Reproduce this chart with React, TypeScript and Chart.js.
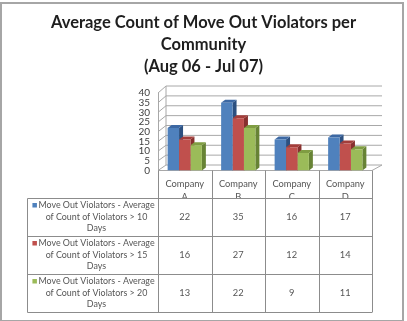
import { useEffect, useRef } from 'react';
import { Chart, registerables } from 'chart.js';

Chart.register(...registerables);

const titleLines = ['Average Count of Move Out Violators per', 'Community', '(Aug 06 - Jul 07)'];
const categories = ['Company A', 'Company B', 'Company C', 'Company D'];
const seriesLabels = [
  ['Move Out Violators - Average', 'of Count of Violators > 10', 'Days'],
  ['Move Out Violators - Average', 'of Count of Violators > 15', 'Days'],
  ['Move Out Violators - Average', 'of Count of Violators > 20', 'Days'],
];
const over10Days = [22, 35, 16, 17];
const over15Days = [16, 27, 12, 14];
const over20Days = [13, 22, 9, 11];
const yMin = 0;
const yMax = 40;
const yStep = 5;

const FONT = 'Lato, "Open Sans", sans-serif';

// front, top and side shades for each series
const shades = [
  { front: '#4f81bd', top: '#3c68a3', side: '#2c5080' },
  { front: '#c0504d', top: '#a33d3a', side: '#87302e' },
  { front: '#9bbb59', top: '#7f9d42', side: '#678335' },
];

const DEPTH_X = 4;
const DEPTH_Y = -3;

function backY(chart: any, v: number) {
  const y = chart.scales.y;
  const f = y.getPixelForValue(v);
  return f - 5.5 - ((v - yMin) / (yMax - yMin)) * 1.5;
}

const wallsAndDepth = {
  id: 'wallsAndDepth',
  beforeDatasetsDraw(chart: any) {
    const { ctx, chartArea } = chart;
    const yS = chart.scales.y;
    const L = chartArea.left;
    const R = chartArea.right;
    const bL = L + 8;
    const bR = R + 10;
    ctx.save();
    ctx.lineWidth = 1;
    ctx.strokeStyle = '#a8a8a8';
    // grid on back and left walls
    for (let v = yMin; v <= yMax; v += yStep) {
      const yf = yS.getPixelForValue(v);
      const yb = backY(chart, v);
      ctx.beginPath();
      ctx.moveTo(L, yf);
      ctx.lineTo(bL, yb);
      ctx.lineTo(bR, yb);
      ctx.stroke();
    }
    // left wall front edge
    ctx.beginPath();
    ctx.moveTo(L + 0.5, yS.getPixelForValue(yMax));
    ctx.lineTo(L + 0.5, yS.getPixelForValue(yMin));
    ctx.stroke();
    // back wall left edge
    ctx.beginPath();
    ctx.moveTo(bL, backY(chart, yMax));
    ctx.lineTo(bL, backY(chart, yMin));
    ctx.stroke();
    // floor
    const f0 = yS.getPixelForValue(yMin);
    ctx.beginPath();
    ctx.moveTo(L, f0);
    ctx.lineTo(R, f0);
    ctx.lineTo(bR, backY(chart, yMin));
    ctx.stroke();

    // bar sides and tops
    const metas = chart.getSortedVisibleDatasetMetas();
    for (let i = 0; i < categories.length; i++) {
      metas.forEach((meta: any) => {
        const el = meta.data[i];
        const s = shades[meta.index];
        const w = el.width;
        const left = el.x - w / 2;
        const right = el.x + w / 2;
        const top = el.y;
        const base = el.base;
        ctx.fillStyle = s.side;
        ctx.beginPath();
        ctx.moveTo(right, top);
        ctx.lineTo(right + DEPTH_X, top + DEPTH_Y);
        ctx.lineTo(right + DEPTH_X, base + DEPTH_Y);
        ctx.lineTo(right, base);
        ctx.closePath();
        ctx.fill();
        ctx.fillStyle = s.top;
        ctx.beginPath();
        ctx.moveTo(left, top);
        ctx.lineTo(left + DEPTH_X, top + DEPTH_Y);
        ctx.lineTo(right + DEPTH_X, top + DEPTH_Y);
        ctx.lineTo(right, top);
        ctx.closePath();
        ctx.fill();
      });
    }
    ctx.restore();
  },
};

const titleTableFrame = {
  id: 'titleTableFrame',
  afterDraw(chart: any) {
    const { ctx, chartArea, width, height } = chart;
    const xS = chart.scales.x;
    ctx.save();

    // title
    ctx.fillStyle = '#1e1e1e';
    ctx.font = `bold 16.5px ${FONT}`;
    ctx.textAlign = 'center';
    ctx.textBaseline = 'middle';
    titleLines.forEach((t, i) => ctx.fillText(t, width / 2, 23 + i * 22));

    // data table
    const L = chartArea.left;
    const R = chartArea.right;
    const colW = (R - L) / categories.length;
    const top = chartArea.bottom;
    const headerBottom = top + 27.5;
    const rowH = 38;
    const legendLeft = 27;
    const px = (v: number) => Math.round(v) + 0.5;

    ctx.font = `9.3px ${FONT}`;
    ctx.fillStyle = '#555555';
    // header cells, clipped to the header row
    ctx.save();
    ctx.beginPath();
    ctx.rect(L, top, R - L, headerBottom - top);
    ctx.clip();
    categories.forEach((c, i) => {
      const cx = xS.getPixelForValue(i);
      const parts = c.split(' ');
      ctx.fillText(parts[0], cx, top + 13.5);
      ctx.fillText(parts[1], cx, top + 26.5);
    });
    ctx.restore();

    const series = chart.data.datasets;
    series.forEach((ds: any, r: number) => {
      const rowTop = headerBottom + r * rowH;
      const midY = rowTop + rowH / 2;
      ctx.font = `9.3px ${FONT}`;
      ds.data.forEach((v: number, i: number) => {
        ctx.fillStyle = '#555555';
        ctx.fillText(String(v), xS.getPixelForValue(i), midY);
      });
      ctx.font = `8.9px ${FONT}`;
      const lines = seriesLabels[r];
      const cx = (legendLeft + 8 + L) / 2;
      lines.forEach((ln, k) => {
        ctx.fillStyle = '#555555';
        const ly = rowTop + 7.5 + k * 11.5;
        ctx.fillText(ln, cx, ly);
        if (k === 0) {
          const tw = ctx.measureText(ln).width;
          ctx.fillStyle = shades[r].front;
          ctx.fillRect(cx - tw / 2 - 6, ly - 2.5, 4.5, 4.5);
        }
      });
    });

    // grid lines of the table
    const bottom = headerBottom + series.length * rowH;
    ctx.strokeStyle = '#8c8c8c';
    ctx.lineWidth = 1;
    ctx.beginPath();
    for (let i = 0; i <= categories.length; i++) {
      const x = px(L + i * colW);
      ctx.moveTo(x, top);
      ctx.lineTo(x, bottom);
    }
    ctx.moveTo(px(legendLeft), px(headerBottom));
    ctx.lineTo(px(legendLeft), px(bottom));
    for (let r = 0; r <= series.length; r++) {
      const y = px(headerBottom + r * rowH);
      ctx.moveTo(px(legendLeft), y);
      ctx.lineTo(px(R), y);
    }
    ctx.stroke();

    // outer frame
    ctx.strokeStyle = '#a6a6a6';
    ctx.lineWidth = 2;
    ctx.strokeRect(1, 3, width - 5, height - 3);
    ctx.restore();
  },
};

export default function App() {
  const canvasRef = useRef<HTMLCanvasElement | null>(null);

  useEffect(() => {
    if (!canvasRef.current) return;
    const chart = new Chart(canvasRef.current, {
      type: 'bar',
      data: {
        labels: categories,
        datasets: [
          { label: seriesLabels[0].join(' '), data: over10Days, backgroundColor: shades[0].front },
          { label: seriesLabels[1].join(' '), data: over15Days, backgroundColor: shades[1].front },
          { label: seriesLabels[2].join(' '), data: over20Days, backgroundColor: shades[2].front },
        ],
      },
      options: {
        responsive: false,
        animation: false,
        devicePixelRatio: 1,
        datasets: { bar: { categoryPercentage: 0.64, barPercentage: 1, borderWidth: 0 } },
        layout: { padding: { top: 93, right: 35, bottom: 150.5, left: 0 } },
        plugins: { legend: { display: false }, tooltip: { enabled: false }, title: { display: false } },
        scales: {
          x: { display: false, offset: true },
          y: {
            min: yMin,
            max: yMax,
            ticks: {
              stepSize: yStep,
              autoSkip: false,
              padding: 8,
              color: '#404040',
              font: { family: FONT, size: 10, lineHeight: 1 },
            },
            grid: { display: false, drawTicks: false },
            border: { display: false },
            afterFit: (scale: any) => {
              scale.width = 158;
            },
          },
        },
      },
      plugins: [wallsAndDepth, titleTableFrame],
    });
    return () => chart.destroy();
  }, []);

  return (
    <div style={{ position: 'absolute', left: 0, top: 0, width: 407, height: 321, background: '#fff' }}>
      <canvas ref={canvasRef} width={407} height={321} style={{ display: 'block' }} />
    </div>
  );
}
